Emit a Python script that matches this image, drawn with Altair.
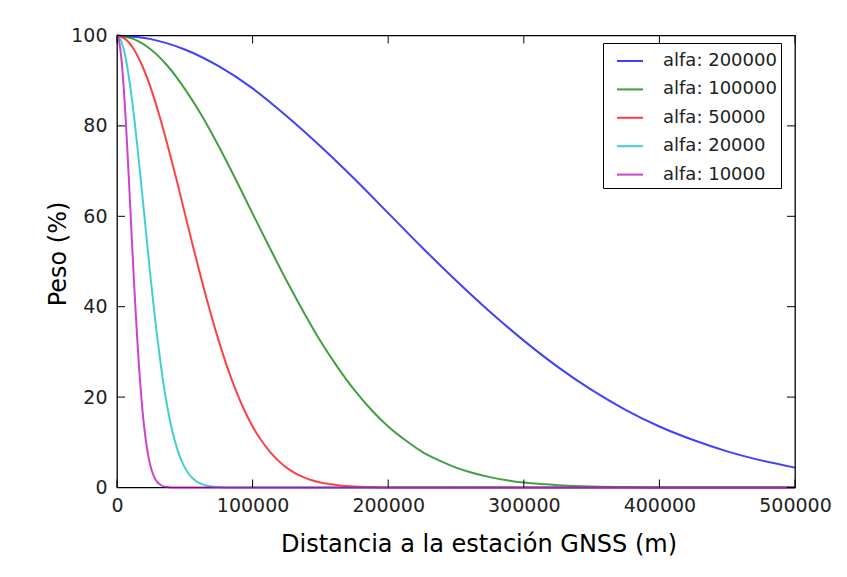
import altair as alt
import pandas as pd

# ---- data ----
series_labels = ["alfa: 200000", "alfa: 100000", "alfa: 50000", "alfa: 20000", "alfa: 10000"]
series_colors = ["#0000ff", "#008000", "#ff0000", "#00bfbf", "#bf00bf"]

d_200000 = [0, 25000, 50000, 75000, 100000, 125000, 150000, 175000, 200000, 225000, 250000,
            275000, 300000, 325000, 350000, 375000, 400000, 425000, 450000, 475000, 500000]
p_200000 = [100, 99.2, 96.9, 93.2, 88.3, 82.2, 75.5, 68.3, 60.7, 53.1, 45.8,
            38.9, 32.5, 26.7, 21.6, 17.2, 13.5, 10.5, 8.0, 6.0, 4.4]

d_100000 = [0, 12500, 25000, 37500, 50000, 62500, 75000, 87500, 100000, 112500, 125000,
            137500, 150000, 162500, 175000, 187500, 200000, 212500, 225000, 237500, 250000,
            262500, 275000, 287500, 300000, 312500, 325000, 350000, 375000, 400000, 500000]
p_100000 = [100, 99.2, 96.9, 93.2, 88.2, 82.3, 75.5, 68.2, 60.6, 53.1, 45.8,
            38.9, 32.4, 26.7, 21.6, 17.2, 13.5, 10.5, 7.9, 6.0, 4.4,
            3.2, 2.3, 1.6, 1.1, 0.8, 0.5, 0.2, 0.1, 0.0, 0.0]

d_50000 = [0, 6250, 12500, 18750, 25000, 31250, 37500, 43750, 50000, 56250, 62500,
           68750, 75000, 81250, 87500, 93750, 100000, 106250, 112500, 118750, 125000,
           131250, 137500, 143750, 150000, 156250, 162500, 175000, 187500, 200000, 500000]
p_50000 = [100, 99.2, 96.9, 93.2, 88.3, 82.3, 75.5, 68.3, 60.7, 53.1, 45.8,
           38.9, 32.5, 26.7, 21.6, 17.2, 13.5, 10.5, 8.0, 6.0, 4.4,
           3.2, 2.3, 1.6, 1.1, 0.8, 0.5, 0.2, 0.1, 0.0, 0.0]

d_20000 = [0, 2500, 5000, 7500, 10000, 12500, 15000, 17500, 20000, 22500, 25000,
           27500, 30000, 32500, 35000, 37500, 40000, 42500, 45000, 47500, 50000,
           52500, 55000, 57500, 60000, 62500, 65000, 70000, 75000, 80000, 500000]
p_20000 = [100, 99.2, 96.9, 93.2, 88.2, 82.3, 75.5, 68.2, 60.7, 53.1, 45.8,
           38.9, 32.5, 26.7, 21.6, 17.2, 13.5, 10.5, 8.0, 6.0, 4.4,
           3.2, 2.3, 1.6, 1.1, 0.8, 0.5, 0.2, 0.1, 0.0, 0.0]

d_10000 = [0, 1250, 2500, 3750, 5000, 6250, 7500, 8750, 10000, 11250, 12500,
           13750, 15000, 16250, 17500, 18750, 20000, 21250, 22500, 23750, 25000,
           26250, 27500, 28750, 30000, 31250, 32500, 35000, 37500, 40000, 500000]
p_10000 = [100, 99.2, 96.9, 93.2, 88.2, 82.3, 75.5, 68.2, 60.7, 53.1, 45.8,
           38.9, 32.5, 26.7, 21.6, 17.2, 13.5, 10.5, 8.0, 6.0, 4.4,
           3.2, 2.3, 1.6, 1.1, 0.8, 0.5, 0.2, 0.1, 0.0, 0.0]

x_ticks = [0, 100000, 200000, 300000, 400000, 500000]
y_ticks = [0, 20, 40, 60, 80, 100]

# ---- build tables ----
all_d = [d_200000, d_100000, d_50000, d_20000, d_10000]
all_p = [p_200000, p_100000, p_50000, p_20000, p_10000]
rows = []
for lab, ds, ps in zip(series_labels, all_d, all_p):
    for d, p in zip(ds, ps):
        rows.append({"d": d, "peso": p, "serie": lab})
df = pd.DataFrame(rows)
xt = pd.DataFrame({"d": x_ticks})
yt = pd.DataFrame({"peso": y_ticks})

W, H = 678, 452
FONT = "DejaVu Sans"

x_enc = alt.X(
    "d:Q",
    scale=alt.Scale(domain=[0, 500000], nice=False, zero=True),
    axis=alt.Axis(
        values=x_ticks, format="d", title="Distancia a la estación GNSS (m)",
        labelFontSize=19, labelFont=FONT, labelColor="#222222", labelPadding=8.5,
        ticks=False, tickSize=0, domain=False, grid=False, labelFlush=False, labelOverlap=False,
        titleFontSize=24, titleFont=FONT, titleFontWeight="normal", titleColor="#000000",
        titleX=361.5, titleY=63.5, titleBaseline="alphabetic", titleAlign="center",
    ),
)
y_enc = alt.Y(
    "peso:Q",
    scale=alt.Scale(domain=[0, 100], nice=False, zero=True),
    axis=alt.Axis(
        values=y_ticks, format="d", title="Peso (%)",
        labelFontSize=19, labelFont=FONT, labelColor="#222222", labelPadding=10,
        ticks=False, tickSize=0, domain=False, grid=False, labelFlush=False, labelOverlap=False,
        titleFontSize=24, titleFont=FONT, titleFontWeight="normal", titleColor="#000000",
        titleX=-51.5, titleY=218, titleAngle=270, titleBaseline="alphabetic", titleAlign="center",
    ),
)
color_enc = alt.Color(
    "serie:N",
    scale=alt.Scale(domain=series_labels, range=series_colors),
    sort=series_labels,
    legend=alt.Legend(title=None),
)

base = alt.Chart(df)
line_layers = []
for lab in series_labels:
    line_layers.append(
        base.transform_filter(alt.datum.serie == lab)
        .mark_line(strokeWidth=2, strokeOpacity=0.75, interpolate="monotone")
        .encode(x=x_enc, y=y_enc, color=color_enc)
    )

tick_len = 8
bottom_ticks = alt.Chart(xt).mark_rule(color="black", strokeWidth=1).encode(
    x=x_enc, y=alt.value(H), y2=alt.value(H - tick_len))
top_ticks = alt.Chart(xt).mark_rule(color="black", strokeWidth=1).encode(
    x=x_enc, y=alt.value(0), y2=alt.value(tick_len))
left_ticks = alt.Chart(yt).mark_rule(color="black", strokeWidth=1).encode(
    y=y_enc, x=alt.value(0), x2=alt.value(tick_len))
right_ticks = alt.Chart(yt).mark_rule(color="black", strokeWidth=1).encode(
    y=y_enc, x=alt.value(W), x2=alt.value(W - tick_len))

chart = alt.layer(
    *line_layers, bottom_ticks, top_ticks, left_ticks, right_ticks
).properties(
    width=W, height=H,
    autosize=alt.AutoSizeParams(type="none"),
    padding={"left": 117, "top": 35.5, "right": 52, "bottom": 89.5},
    background="white",
).configure_view(
    stroke="black", strokeWidth=1.3, fill="white",
).configure_legend(
    orient="none", legendX=486, legendY=7.5,
    fillColor="white", strokeColor="black", padding=4, cornerRadius=0,
    symbolType="stroke", symbolSize=676, symbolStrokeWidth=2, symbolOpacity=0.75,
    symbolOffset=9, labelOffset=19, labelFontSize=18, labelFont=FONT, labelColor="#222222",
    rowPadding=5.4, labelLimit=300,
)

chart.save("out.html", embed_options={"renderer": "svg", "actions": False})
